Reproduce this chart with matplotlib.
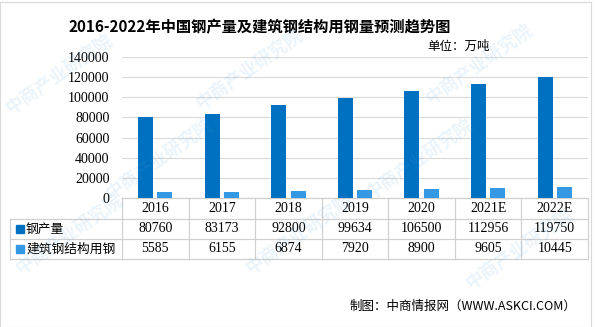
import matplotlib.pyplot as plt
import numpy as np
from matplotlib.patches import Rectangle

years = ['2016', '2017', '2018', '2019', '2020', '2021E', '2022E']
steel = [80760, 83173, 92800, 99634, 106500, 112956, 119750]
struct_steel = [5585, 6155, 6874, 7920, 8900, 9605, 10445]
series_names = ['钢产量', '建筑钢结构用钢']
colors = ['#0070C0', '#3598E3']

cjk = ['Noto Sans CJK SC', 'DejaVu Sans']
num = ['Liberation Serif', 'DejaVu Serif']

W, H = 595, 327
fig = plt.figure(figsize=(W / 100, H / 100), dpi=100)
fig.patch.set_facecolor('white')

# plot area in pixels
x0, x1, y0, y1 = 122, 588, 198, 57
ax = fig.add_axes([x0 / W, 1 - y0 / H, (x1 - x0) / W, (y0 - y1) / H])

x = np.arange(len(years))
bw = 0.225
ax.bar(x - 0.145, steel, bw, color=colors[0], zorder=3)
ax.bar(x + 0.145, struct_steel, bw, color=colors[1], zorder=3)

ax.set_xlim(-0.5, len(years) - 0.5)
ax.set_ylim(0, 140000)
ax.set_yticks(np.arange(0, 140001, 20000))
ax.set_yticklabels([str(v) for v in range(0, 140001, 20000)], family=num, fontsize=10)
ax.tick_params(axis='y', length=0, pad=9)
ax.set_xticks([])
ax.grid(axis='y', color='#D9D9D9', linewidth=0.8, zorder=0)
for s in ax.spines.values():
    s.set_visible(False)

# data table below the plot
tr = ax.get_xaxis_transform()
ph = y0 - y1
rows = [0, -21 / ph, -41 / ph, -61 / ph]
unit = (x1 - x0) / len(years)
left = -0.5 - (x0 - 10) / unit
lc = '#D0D0D0'
for r in rows:
    xs = [-0.5 if r == 0 else left, len(years) - 0.5]
    ax.plot(xs, [r, r], transform=tr, color=lc, lw=0.9, clip_on=False)
for i in range(len(years) + 1):
    ax.plot([i - 0.5, i - 0.5], [rows[0], rows[3]], transform=tr, color=lc, lw=0.9, clip_on=False)
ax.plot([left, left], [rows[1], rows[3]], transform=tr, color=lc, lw=0.9, clip_on=False)

for i, y in enumerate(years):
    ax.text(i, (rows[0] + rows[1]) / 2, y, transform=tr, ha='center', va='center',
            family=num, fontsize=10)
for row, vals in [(1, steel), (2, struct_steel)]:
    yc = (rows[row] + rows[row + 1]) / 2
    for i, v in enumerate(vals):
        ax.text(i, yc, str(v), transform=tr, ha='center', va='center', family=num, fontsize=10)
    ax.add_patch(Rectangle((left + 6 / unit, yc - 0.03), 8 / unit, 0.06, transform=tr,
                           color=colors[row - 1], clip_on=False))
    ax.text(left + 16 / unit, yc, series_names[row - 1], transform=tr, ha='left', va='center',
            family=cjk, fontsize=9.2)

# titles and notes
fig.text(260 / W, 1 - 27 / H, '2016-2022年中国钢产量及建筑钢结构用钢量预测趋势图',
         ha='center', va='center', family=cjk, fontsize=11, fontweight='bold')
fig.text(490 / W, 1 - 46 / H, '单位：万吨', ha='right', va='center', family=cjk, fontsize=9)
fig.text(576 / W, 1 - 306 / H, '制图：中商情报网（WWW.ASKCI.COM）', ha='right', va='center',
         family=cjk, fontsize=9)

# faint watermark
for (wx, wy) in [(60, 75), (250, 70), (480, 65), (70, 235), (300, 235), (520, 250), (160, 160), (420, 160)]:
    fig.text(wx / W, 1 - wy / H, '中商产业研究院', rotation=35, ha='center', va='center',
             family=cjk, fontsize=13, color='#5BA3DC', alpha=0.12, fontweight='bold')

fig.add_artist(Rectangle((0, 0), 591 / W, 0.995, transform=fig.transFigure, fill=False,
                         edgecolor='#D9D9D9', lw=0.8))

fig.savefig('out.png', dpi=100)
